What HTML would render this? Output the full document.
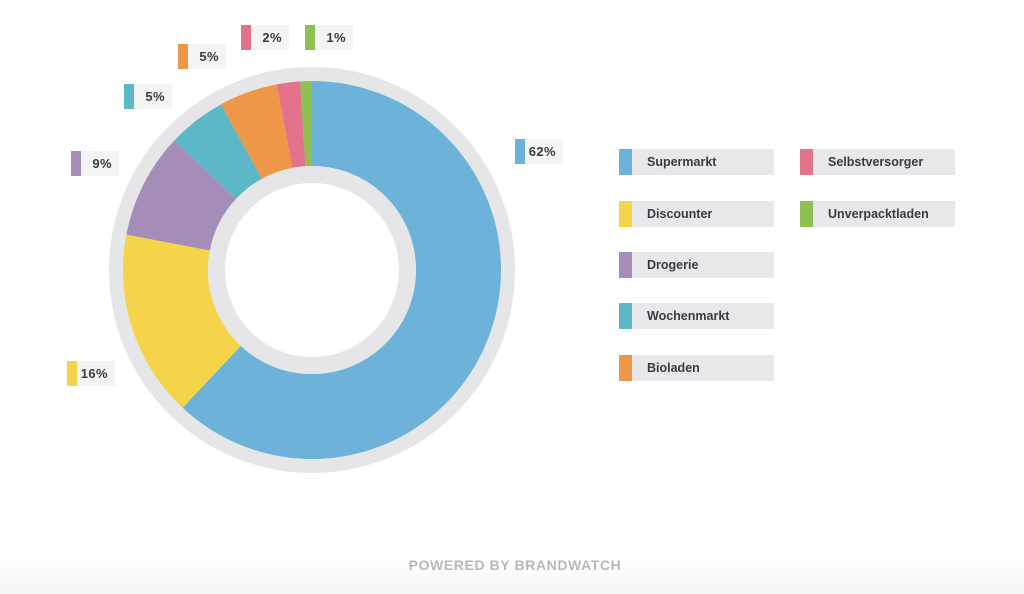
<!DOCTYPE html>
<html><head><meta charset="utf-8"><style>
body{margin:0;width:1024px;height:594px;background:#fff;position:relative;overflow:hidden;font-family:"Liberation Sans",sans-serif}
.p{position:absolute;height:25px;width:48px;background:#f4f4f4;font-size:13px;font-weight:bold;color:#3a3a40;line-height:25px;text-align:right;box-sizing:border-box;padding-right:7px;letter-spacing:0.4px}
.p i{position:absolute;left:0;top:0;width:10px;height:25px}
.l{position:absolute;width:155px;height:26px;background:#e8e8ea;font-size:12.5px;font-weight:bold;color:#3a3a44;line-height:26px;padding-left:28px;box-sizing:border-box}
.l i{position:absolute;left:0;top:0;width:13px;height:26px}
.f{position:absolute;left:0;top:560px;width:1024px;height:34px;background:linear-gradient(#fff,#f6f6f6)}
.t{position:absolute;left:0;width:1030px;top:557px;text-align:center;font-size:14px;font-weight:bold;color:#b8b8b8;letter-spacing:0.6px}
</style></head><body>
<svg width="1024" height="594" style="position:absolute;left:0;top:0">
<circle cx="312" cy="270" r="203" fill="#e6e6e8"/>
<g transform="rotate(-90 312 270)" fill="none" stroke-width="85">
<circle cx="312" cy="270" r="146.5" pathLength="100" stroke="#6db3d9" stroke-dasharray="62 100" stroke-dashoffset="0"/>
<circle cx="312" cy="270" r="146.5" pathLength="100" stroke="#f6d44a" stroke-dasharray="16 100" stroke-dashoffset="-62"/>
<circle cx="312" cy="270" r="146.5" pathLength="100" stroke="#a58dba" stroke-dasharray="9 100" stroke-dashoffset="-78"/>
<circle cx="312" cy="270" r="146.5" pathLength="100" stroke="#5cb8c7" stroke-dasharray="5 100" stroke-dashoffset="-87"/>
<circle cx="312" cy="270" r="146.5" pathLength="100" stroke="#ee9748" stroke-dasharray="5 100" stroke-dashoffset="-92"/>
<circle cx="312" cy="270" r="146.5" pathLength="100" stroke="#e2738b" stroke-dasharray="2 100" stroke-dashoffset="-97"/>
<circle cx="312" cy="270" r="146.5" pathLength="100" stroke="#8fc152" stroke-dasharray="1 100" stroke-dashoffset="-99"/>
</g>
<circle cx="312" cy="270" r="104" fill="#e6e6e8"/>
<circle cx="312" cy="270" r="87" fill="#fff"/>
</svg>
<div class="p" style="left:515px;top:139px"><i style="background:#6db3d9"></i>62%</div>
<div class="p" style="left:241px;top:25px"><i style="background:#e2738b"></i>2%</div>
<div class="p" style="left:305px;top:25px"><i style="background:#8fc152"></i>1%</div>
<div class="p" style="left:178px;top:44px"><i style="background:#ee9748"></i>5%</div>
<div class="p" style="left:124px;top:84px"><i style="background:#5cb8c7"></i>5%</div>
<div class="p" style="left:71px;top:151px"><i style="background:#a58dba"></i>9%</div>
<div class="p" style="left:67px;top:361px"><i style="background:#f6d44a"></i>16%</div>
<div class="l" style="left:619px;top:149px"><i style="background:#6db3d9"></i>Supermarkt</div>
<div class="l" style="left:619px;top:201px"><i style="background:#f6d44a"></i>Discounter</div>
<div class="l" style="left:619px;top:252px"><i style="background:#a58dba"></i>Drogerie</div>
<div class="l" style="left:619px;top:303px"><i style="background:#5cb8c7"></i>Wochenmarkt</div>
<div class="l" style="left:619px;top:355px"><i style="background:#ee9748"></i>Bioladen</div>
<div class="l" style="left:800px;top:149px"><i style="background:#e2738b"></i>Selbstversorger</div>
<div class="l" style="left:800px;top:201px"><i style="background:#8fc152"></i>Unverpacktladen</div>
<div class="f"></div>
<div class="t">POWERED BY BRANDWATCH</div>
</body></html>
